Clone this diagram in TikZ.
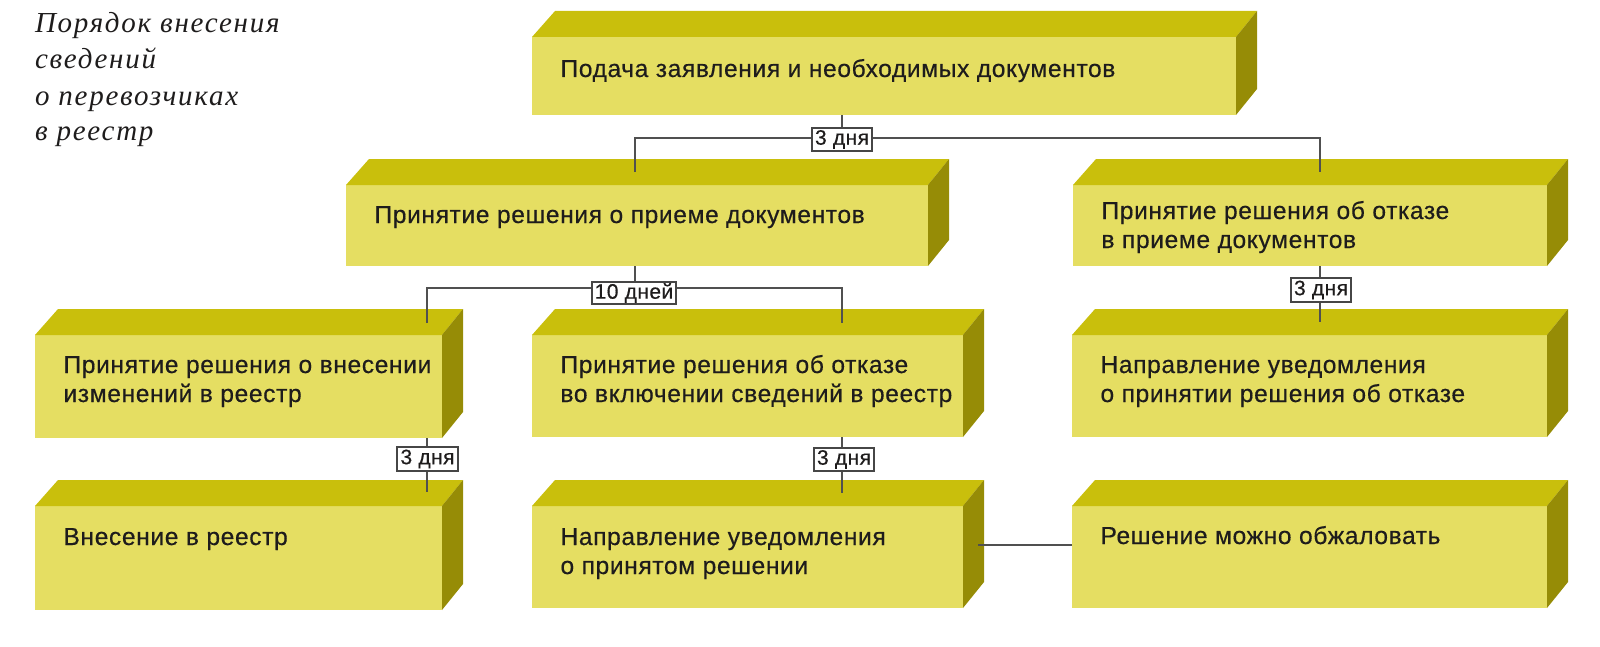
\documentclass[tikz,border=0pt]{standalone}
\usepackage{fontspec}
\setmainfont{Liberation Sans}
\newfontfamily\boxfont[LetterSpace=2.5,FakeBold=0.4]{Liberation Sans}
\newfontfamily\labfont[LetterSpace=2,FakeBold=0.4]{Liberation Sans}
\newfontfamily\titlefont[LetterSpace=6]{Liberation Serif}
\usetikzlibrary{calc}
\definecolor{frontc}{RGB}{229,222,98}
\definecolor{topc}{RGB}{201,191,12}
\definecolor{sidec}{RGB}{150,140,6}
\definecolor{txtc}{RGB}{30,28,28}
\definecolor{linec}{RGB}{80,80,80}
\definecolor{labc}{RGB}{70,70,70}
\tikzset{
  front/.style={fill=frontc, draw=none, inner sep=0pt, outer sep=0pt, anchor=north west},
  topface/.style={fill=topc},
  sideface/.style={fill=sidec},
  boxtext/.style={inner sep=0pt, outer sep=0pt, anchor=base west, text=txtc, font=\boxfont\fontsize{12.3}{14.5}\selectfont},
  conn/.style={draw=linec, line width=0.75pt},
  daylabel/.style={fill=white, draw=labc, line width=0.6pt, inner sep=0pt, outer sep=0pt, minimum height=11.5pt, font=\labfont\fontsize{10.5}{12}\selectfont, text=txtc},
  titletext/.style={inner sep=0pt, outer sep=0pt, anchor=base west, text=txtc, font=\titlefont\itshape\fontsize{14.5}{18}\selectfont},
}
% #1 name, #2 x0, #3 y0, #4 x1, #5 y1, #6 baseline offset, #7 text
\newcommand\cubebox[7]{%
  \node[front, minimum width={(#4-#2)*0.5pt}, minimum height={(#5-#3)*0.5pt}] (#1) at (#2,#3) {};
  \fill[topface] (#1.north west) -- ++(23,-26) -- ([shift={(21,-26)}]#1.north east) -- (#1.north east) -- cycle;
  \fill[sideface] (#1.north east) -- ++(21,-26) -- ([shift={(21,-26)}]#1.south east) -- (#1.south east) -- cycle;
  \node[boxtext] (#1t) at ([shift={(28.5,#6)}]#1.north west) {\begin{tabular}[t]{@{}l@{}}#7\end{tabular}};
}
\begin{document}
\begin{tikzpicture}[x=0.5pt,y=-0.5pt]
\useasboundingbox (0,0) rectangle (1600,647);
% title
\node[titletext] (title) at (35,33) {\begin{tabular}[t]{@{}l@{}}Порядок внесения\\сведений\\о перевозчиках\\в реестр\end{tabular}};
% boxes
\cubebox{A}{532}{37}{1236}{115}{40}{Подача заявления и необходимых документов}
\cubebox{B}{346}{185}{928}{266}{38}{Принятие решения о приеме документов}
\cubebox{C}{1073}{185}{1547}{266}{34}{Принятие решения об отказе\\в приеме документов}
\cubebox{D}{35}{335}{442}{438}{38}{Принятие решения о внесении\\изменений в реестр}
\cubebox{E}{532}{335}{963}{437}{38}{Принятие решения об отказе\\во включении сведений в реестр}
\cubebox{F}{1072}{335}{1547}{437}{38}{Направление уведомления\\о принятии решения об отказе}
\cubebox{G}{35}{506}{442}{610}{39}{Внесение в реестр}
\cubebox{H}{532}{506}{963}{608}{39}{Направление уведомления\\о принятом решении}
\cubebox{I}{1072}{506}{1547}{608}{38}{Решение можно обжаловать}
% connector points
\coordinate (h1) at (842,138);
\coordinate (b1) at (635,172);
\coordinate (c1) at (1320,172);
\coordinate (h2) at (635,288);
\coordinate (d1) at (427,323);
\coordinate (e1) at (842,323);
\coordinate (f1) at (1320,322);
\coordinate (g1) at (427,492);
\coordinate (k1) at (842,493);
\coordinate (s1) at (978,545);
% connectors
\draw[conn] (A.south -| h1) -- (h1);
\draw[conn] (b1) |- (h1) -| (c1);
\draw[conn] (B.south -| h2) -- (h2);
\draw[conn] (d1) |- (h2) -| (e1);
\draw[conn] (C.south -| f1) -- (f1);
\draw[conn] (D.south -| g1) -- (g1);
\draw[conn] (E.south -| k1) -- (k1);
\draw[conn] (s1) -- (s1 -| I.west);
% day labels
\node[daylabel, minimum width=30pt] (L1) at (842,139.5) {3 дня};
\node[daylabel, minimum width=42pt, minimum height=11pt] (L2) at (634,293) {10 дней};
\node[daylabel, minimum width=30pt, minimum height=12pt] (L3) at (1321,290) {3 дня};
\node[daylabel, minimum width=30.5pt, minimum height=12pt] (L4) at (427.5,459) {3 дня};
\node[daylabel, minimum width=30pt] (L5) at (844,459.5) {3 дня};
\end{tikzpicture}
\end{document}
